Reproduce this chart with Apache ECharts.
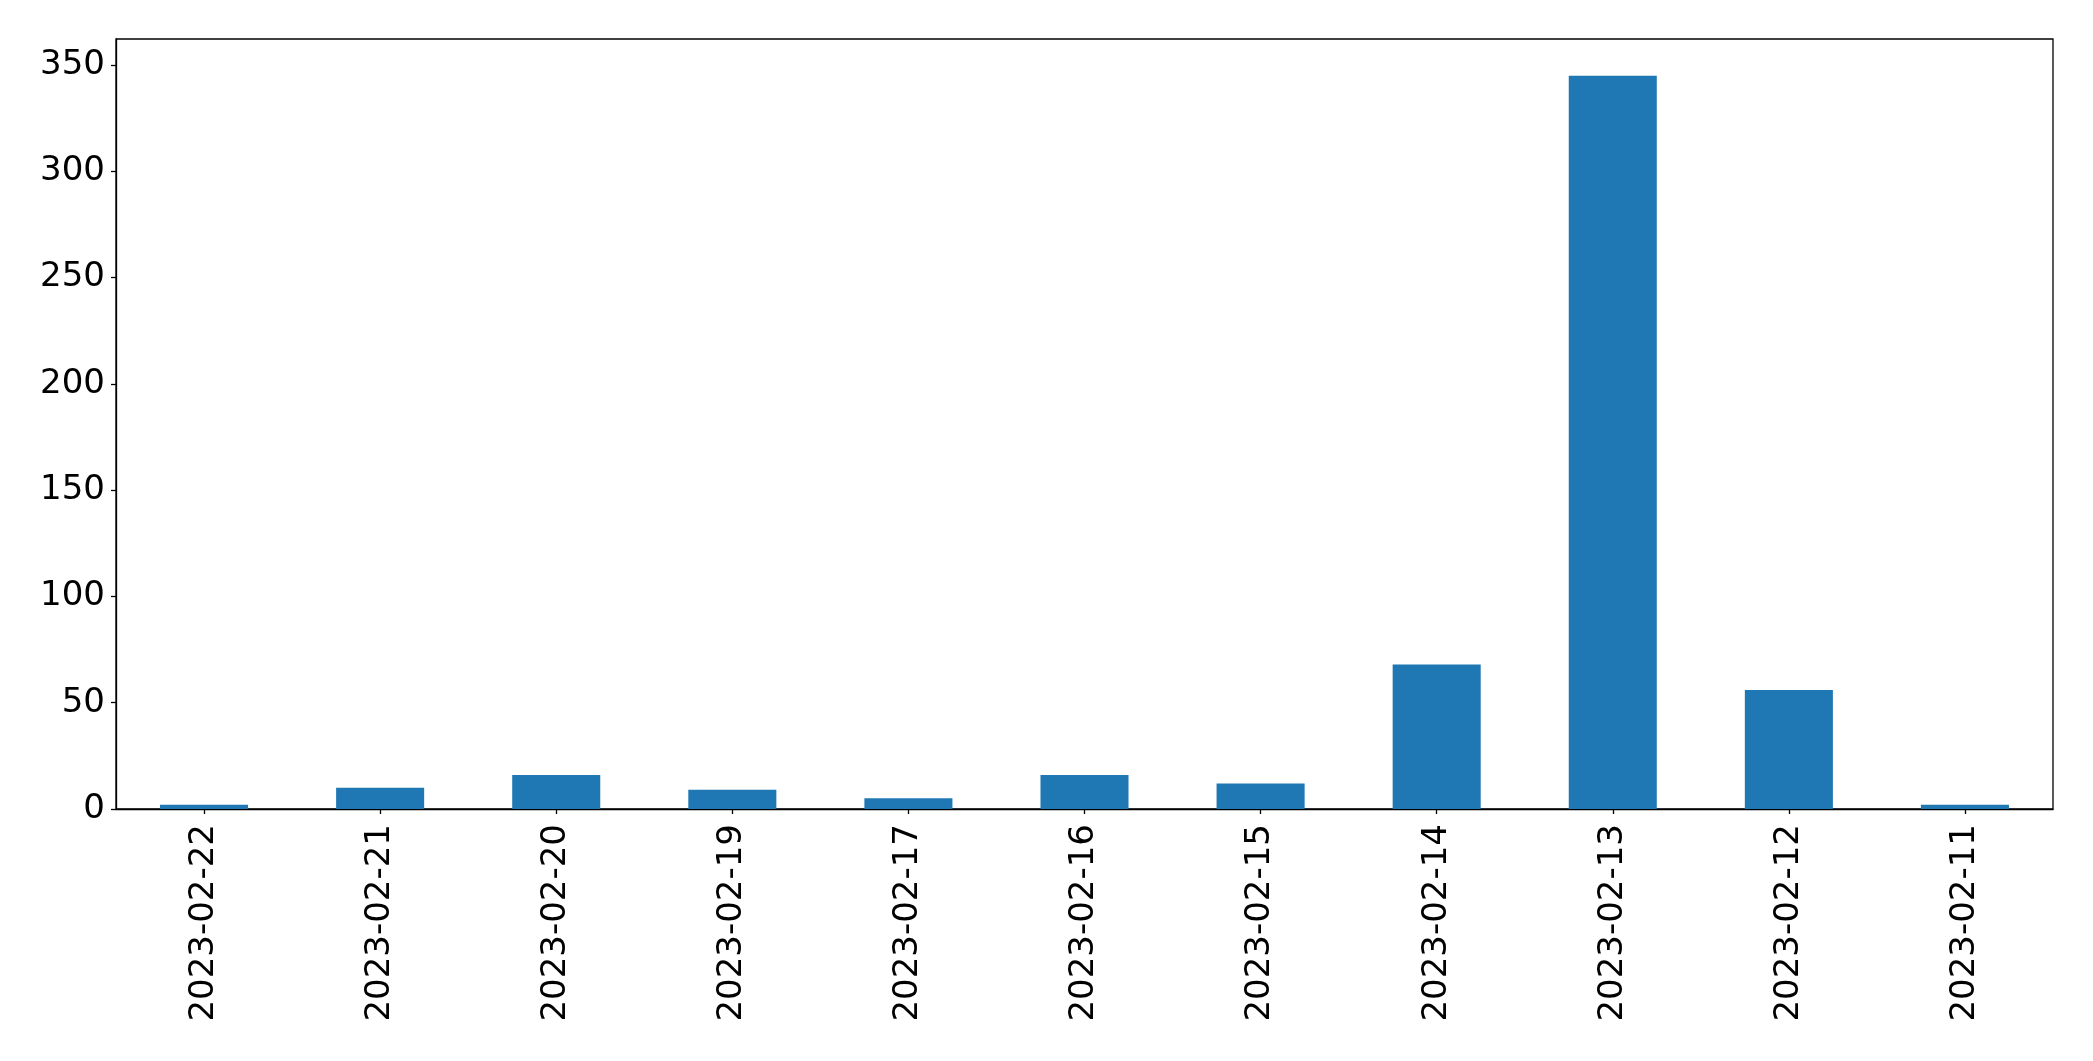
<!DOCTYPE html>
<html>
<head>
<meta charset="utf-8">
<script src="https://cdn.jsdelivr.net/npm/echarts@6/dist/echarts.min.js"></script>
<style>
html,body{margin:0;padding:0;background:#fff;}
#chart{width:2093px;height:1061px;}
</style>
</head>
<body>
<div id="chart"></div>
<script>
const categories = ['2023-02-22','2023-02-21','2023-02-20','2023-02-19','2023-02-17','2023-02-16','2023-02-15','2023-02-14','2023-02-13','2023-02-12','2023-02-11'];
const counts = [2, 10, 16, 9, 5, 16, 12, 68, 345, 56, 2];
const yTicks = [0, 50, 100, 150, 200, 250, 300, 350];

const chart = echarts.init(document.getElementById('chart'), null, {renderer: 'canvas'});
const font = 'DejaVu Sans';
chart.setOption({
  animation: false,
  backgroundColor: '#ffffff',
  grid: {
    left: 116, top: 39, width: 1937, height: 770,
    show: true, borderColor: '#000', borderWidth: 1.3, backgroundColor: 'transparent'
  },
  xAxis: {
    type: 'category',
    data: categories,
    boundaryGap: true,
    axisLine: {show: true, lineStyle: {color: '#000', width: 1.3}},
    axisTick: {show: true, alignWithLabel: true, length: 5, lineStyle: {color: '#000', width: 1.3}},
    axisLabel: {rotate: 90, margin: 15, color: '#000', fontFamily: font, fontSize: 34, interval: 0},
    splitLine: {show: false}
  },
  yAxis: {
    type: 'value',
    min: 0,
    max: 362.25,
    interval: 50,
    axisLine: {show: true, lineStyle: {color: '#000', width: 1.3}},
    axisTick: {show: true, length: 5, customValues: yTicks, lineStyle: {color: '#000', width: 1.3}},
    axisLabel: {margin: 11, color: '#000', fontFamily: font, fontSize: 34, customValues: yTicks},
    splitLine: {show: false}
  },
  series: [{
    type: 'bar',
    data: counts,
    barWidth: '50%',
    itemStyle: {color: '#1f77b4'}
  }]
});
</script>
</body>
</html>
